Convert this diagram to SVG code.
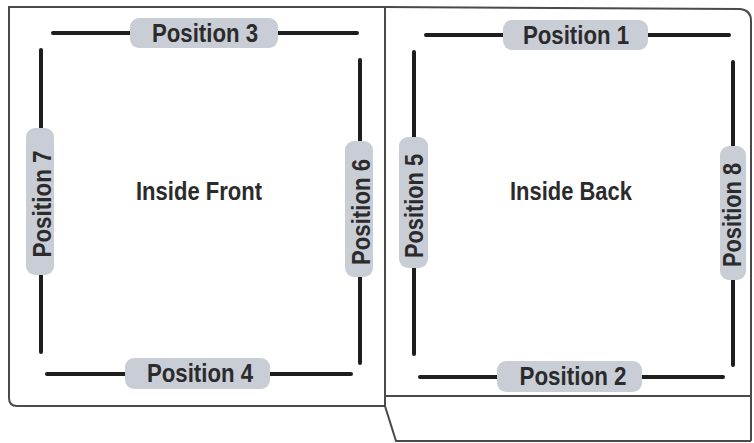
<svg xmlns="http://www.w3.org/2000/svg" width="754" height="443" viewBox="0 0 754 443">
<style>
.panel{fill:none;stroke:#4a4a4a;stroke-width:2}
.bar{stroke:#1e1e1e;stroke-width:4;stroke-linecap:round}
.pill{fill:#c9cdd6}
.lbl{font-family:"Liberation Sans Narrow","Liberation Sans",sans-serif;font-weight:bold;font-size:25px;fill:#2b2b2b;text-anchor:middle}
.title{font-family:"Liberation Sans Narrow","Liberation Sans",sans-serif;font-weight:bold;font-size:26px;fill:#2b2b2b;text-anchor:middle}
</style>
<rect width="754" height="443" fill="#ffffff"/>
<g id="panels">
<path class="panel" d="M385,7 L9,7 L9,398 Q9,406 17,406 L385,406"/>
<path class="panel" d="M385,7 L740,9 Q751,10 751,21 L751,441"/>
<path class="panel" d="M385,7 L385,406 L396,441 L751,441"/>
<path class="panel" d="M385,396 L751,396"/>
</g>
<g id="connectors">
<line class="bar" x1="53" y1="33" x2="357" y2="33"/>
<line class="bar" x1="426" y1="35" x2="729" y2="35"/>
<line class="bar" x1="47" y1="374" x2="351" y2="374"/>
<line class="bar" x1="420" y1="377" x2="723" y2="377"/>
<line class="bar" x1="41" y1="50" x2="41" y2="352"/>
<line class="bar" x1="360" y1="60" x2="360" y2="363"/>
<line class="bar" x1="414" y1="52" x2="414" y2="354"/>
<line class="bar" x1="733" y1="62" x2="733" y2="365"/>
</g>
<g id="position3">
<rect class="pill" x="130" y="18" width="148" height="30" rx="9"/>
<text class="lbl" x="205" y="42" textLength="106" lengthAdjust="spacingAndGlyphs">Position 3</text>
</g>
<g id="position1">
<rect class="pill" x="503" y="20" width="145" height="30" rx="9"/>
<text class="lbl" x="576" y="44" textLength="106" lengthAdjust="spacingAndGlyphs">Position 1</text>
</g>
<g id="position4">
<rect class="pill" x="125" y="358" width="145" height="31" rx="9"/>
<text class="lbl" x="200" y="382" textLength="106" lengthAdjust="spacingAndGlyphs">Position 4</text>
</g>
<g id="position2">
<rect class="pill" x="497" y="361" width="145" height="31" rx="9"/>
<text class="lbl" x="573" y="385" textLength="107" lengthAdjust="spacingAndGlyphs">Position 2</text>
</g>
<g id="position7">
<rect class="pill" x="26" y="128" width="28" height="147" rx="9"/>
<text class="lbl" transform="translate(51,204) rotate(-90)" x="0" y="0" textLength="107" lengthAdjust="spacingAndGlyphs">Position 7</text>
</g>
<g id="position6">
<rect class="pill" x="345" y="141" width="28" height="136" rx="9"/>
<text class="lbl" transform="translate(370,212) rotate(-90)" x="0" y="0" textLength="106" lengthAdjust="spacingAndGlyphs">Position 6</text>
</g>
<g id="position5">
<rect class="pill" x="399" y="137" width="29" height="131" rx="9"/>
<text class="lbl" transform="translate(423,206) rotate(-90)" x="0" y="0" textLength="104" lengthAdjust="spacingAndGlyphs">Position 5</text>
</g>
<g id="position8">
<rect class="pill" x="720" y="146" width="26" height="134" rx="9"/>
<text class="lbl" transform="translate(741,215) rotate(-90)" x="0" y="0" textLength="104" lengthAdjust="spacingAndGlyphs">Position 8</text>
</g>
<g id="inside-front">
<text class="title" x="199" y="200" textLength="126" lengthAdjust="spacingAndGlyphs">Inside Front</text>
</g>
<g id="inside-back">
<text class="title" x="571" y="200" textLength="122" lengthAdjust="spacingAndGlyphs">Inside Back</text>
</g>
</svg>
